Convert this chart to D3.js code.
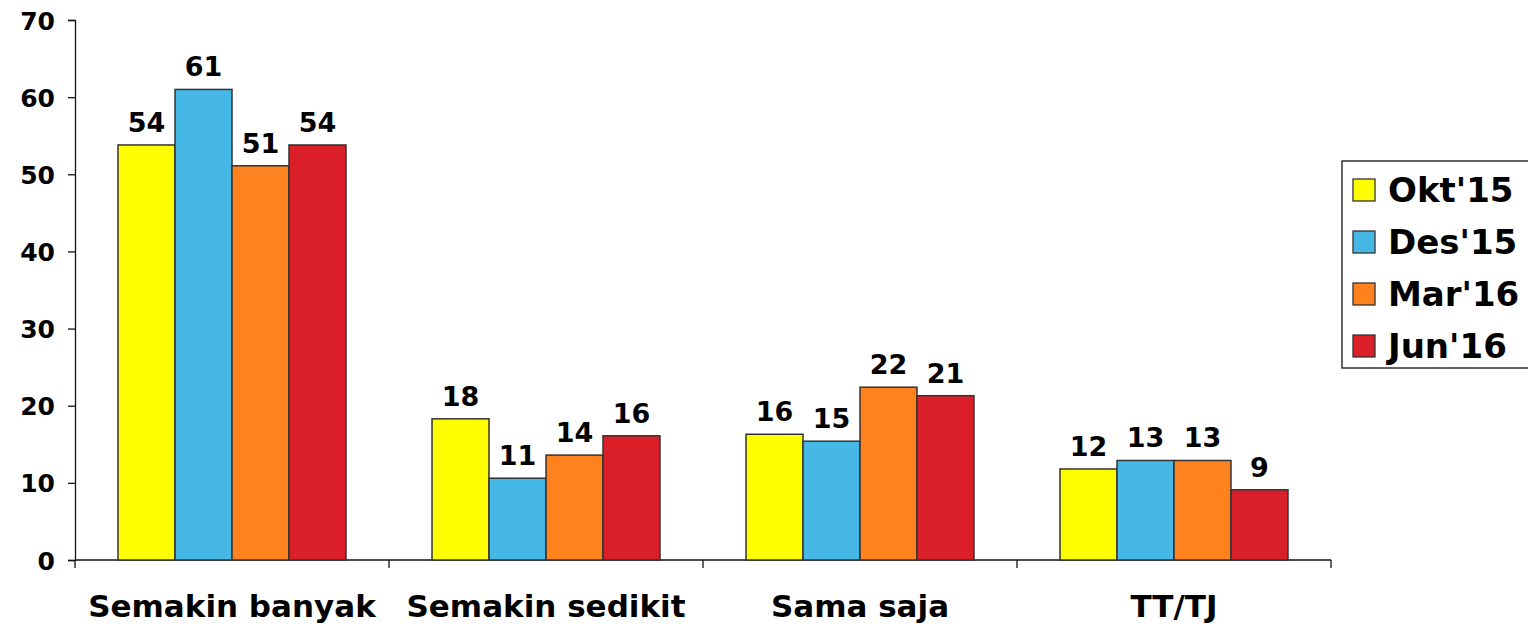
<!DOCTYPE html>
<html>
<head>
<meta charset="utf-8">
<script src="https://cdn.jsdelivr.net/npm/d3@7"></script>
<style>
  body { margin: 0; background: #fff; }
  svg text { font-family: "DejaVu Sans", Verdana, sans-serif; font-weight: bold; fill: #000; }
</style>
</head>
<body>
<div id="chart"></div>
<script>
const categories = ['Semakin banyak', 'Semakin sedikit', 'Sama saja', 'TT/TJ'];
const seriesNames = ["Okt'15", "Des'15", "Mar'16", "Jun'16"];
const okt15 = [53.8, 18.3, 16.3, 11.8];
const des15 = [61.0, 10.6, 15.4, 12.9];
const mar16 = [51.1, 13.6, 22.4, 12.9];
const jun16 = [53.8, 16.1, 21.3, 9.1];
const seriesColors = ['#ffff00', '#45b8e6', '#ff821e', '#da1f28'];
const yTicks = [0, 10, 20, 30, 40, 50, 60, 70];

const width = 1528;
const height = 626;
const margin = { top: 20, left: 75, bottom: 66, right: 197 };

const svg = d3.select('#chart')
  .append('svg')
  .attr('width', width)
  .attr('height', height);

const allSeries = [okt15, des15, mar16, jun16];

// scales
const x0 = d3.scaleBand()
  .domain(categories)
  .range([margin.left, width - margin.right])
  .paddingInner(0.274)
  .paddingOuter(0.137);

const x1 = d3.scaleBand()
  .domain(seriesNames)
  .range([0, x0.bandwidth()]);

const y = d3.scaleLinear()
  .domain([0, 70])
  .range([height - margin.bottom, margin.top]);

// y axis
const yAxis = svg.append('g')
  .attr('transform', `translate(${margin.left},0)`)
  .call(d3.axisLeft(y).tickValues(yTicks).tickSize(7).tickPadding(13));
yAxis.select('.domain').attr('stroke', '#111').attr('stroke-width', 1.3);
yAxis.selectAll('.tick line').attr('stroke', '#111').attr('stroke-width', 1.3);
yAxis.selectAll('.tick text').style('font-size', '25px').attr('dy', '0.36em');

// x axis with ticks between categories
const stepW = x0.step();
const xAxis = svg.append('g')
  .attr('transform', `translate(0,${y(0)})`);
xAxis.append('line')
  .attr('x1', margin.left).attr('x2', width - margin.right)
  .attr('stroke', '#111').attr('stroke-width', 1.3);
const bounds = d3.range(categories.length + 1).map(i => margin.left + i * stepW);
xAxis.selectAll('.xtick')
  .data(bounds)
  .enter()
  .append('line')
  .attr('x1', d => d).attr('x2', d => d)
  .attr('y1', 0).attr('y2', 8)
  .attr('stroke', '#111').attr('stroke-width', 1.3);
xAxis.selectAll('.xlabel')
  .data(categories)
  .enter()
  .append('text')
  .attr('x', d => x0(d) + x0.bandwidth() / 2)
  .attr('y', 57)
  .attr('text-anchor', 'middle')
  .style('font-size', '31px')
  .text(d => d);

// bars
const groups = svg.append('g')
  .selectAll('g')
  .data(categories)
  .enter()
  .append('g')
  .attr('transform', d => `translate(${x0(d)},0)`);

const barData = (c, ci) => seriesNames.map((s, si) => ({ s, si, v: allSeries[si][ci] }));

groups.selectAll('rect')
  .data(barData)
  .enter()
  .append('rect')
  .attr('x', d => x1(d.s))
  .attr('y', d => y(d.v))
  .attr('width', x1.bandwidth())
  .attr('height', d => y(0) - y(d.v))
  .attr('fill', d => seriesColors[d.si])
  .attr('stroke', '#333')
  .attr('stroke-width', 1.5);

groups.selectAll('.val')
  .data(barData)
  .enter()
  .append('text')
  .attr('x', d => x1(d.s) + x1.bandwidth() / 2)
  .attr('y', d => y(d.v) - 13)
  .attr('text-anchor', 'middle')
  .style('font-size', '27px')
  .text(d => d3.format('.0f')(d.v));

// legend
const legend = svg.append('g')
  .attr('transform', 'translate(1342,161)');
legend.append('rect')
  .attr('width', 200).attr('height', 207)
  .attr('fill', '#fff').attr('stroke', '#111').attr('stroke-width', 1.3);
const items = legend.selectAll('.item')
  .data(seriesNames)
  .enter()
  .append('g')
  .attr('transform', (d, i) => `translate(0,${29 + i * 52})`);
items.append('rect')
  .attr('x', 11).attr('y', -11)
  .attr('width', 22).attr('height', 22)
  .attr('fill', (d, i) => seriesColors[i])
  .attr('stroke', '#333').attr('stroke-width', 1.3);
items.append('text')
  .attr('x', 46)
  .attr('dy', '0.36em')
  .style('font-size', '34px')
  .text(d => d);
</script>
</body>
</html>
